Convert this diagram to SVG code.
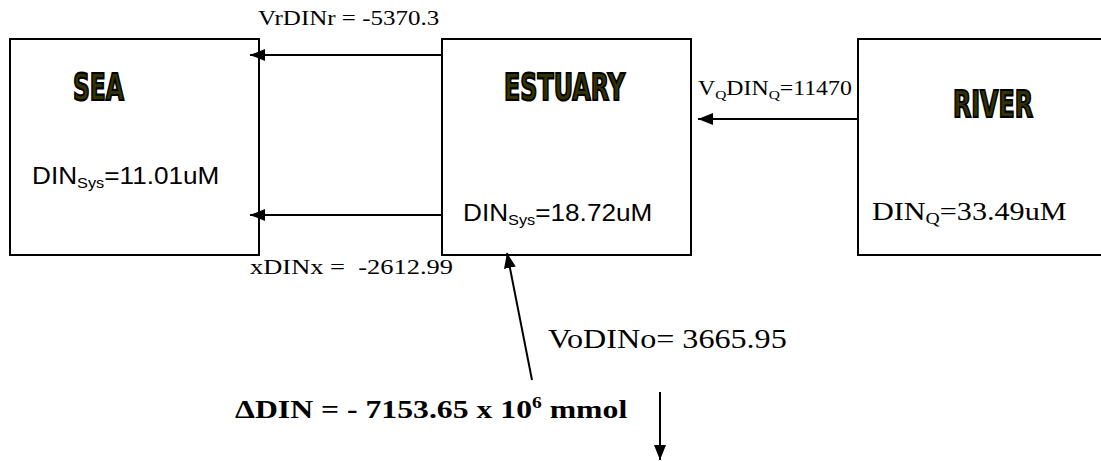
<svg xmlns="http://www.w3.org/2000/svg" width="1101" height="461" viewBox="0 0 1101 461">
<style>
.box{fill:#fff;stroke:#000;stroke-width:2}
.title{font-family:"DejaVu Sans","Liberation Sans",sans-serif;font-weight:bold;font-size:37px;fill:#333300;stroke:#000;stroke-width:2.2}
.tm{font-family:"Liberation Serif","Times New Roman",serif;fill:#000;white-space:pre}
.ar{font-family:"Liberation Sans",Arial,sans-serif;fill:#000}
.conn{fill:none;stroke:#000;stroke-width:2}
</style>
<defs>
<marker id="ah" markerUnits="userSpaceOnUse" markerWidth="15" markerHeight="12" viewBox="0 0 15 12" refX="15" refY="6" orient="auto">
<path d="M0,0 L15,6 L0,12 z" fill="#000"/>
</marker>
</defs>
<rect width="1101" height="461" fill="#fff"/>
<g id="sea">
<rect class="box" x="10" y="39" width="249" height="216"/>
<text class="title" x="73" y="100" textLength="51" lengthAdjust="spacingAndGlyphs">SEA</text>
<text class="ar" font-size="24" transform="translate(32,184) scale(1.09,1)">DIN<tspan font-size="15" dy="4">Sys</tspan><tspan dy="-4">=11.01uM</tspan></text>
</g>
<g id="estuary">
<rect class="box" x="442" y="39" width="249" height="216"/>
<text class="title" x="504" y="100" textLength="121" lengthAdjust="spacingAndGlyphs">ESTUARY</text>
<text class="ar" font-size="24" transform="translate(463,221) scale(1.09,1)">DIN<tspan font-size="15" dy="4">Sys</tspan><tspan dy="-4">=18.72uM</tspan></text>
</g>
<g id="river">
<rect class="box" x="858" y="39" width="260" height="216"/>
<text class="title" x="953" y="117" textLength="80" lengthAdjust="spacingAndGlyphs">RIVER</text>
<text class="tm" font-size="26" transform="translate(872,220) scale(1.16,1)">DIN<tspan font-size="17" dy="4">Q</tspan><tspan dy="-4">=33.49uM</tspan></text>
</g>
<g id="connectors">
<path class="conn" d="M442,55 L250,55" marker-end="url(#ah)"/>
<path class="conn" d="M442,215 L250,215" marker-end="url(#ah)"/>
<path class="conn" d="M857,119 L698,119" marker-end="url(#ah)"/>
<path class="conn" d="M532,380 L507,253" marker-end="url(#ah)"/>
<path class="conn" d="M660,392 L660,460" marker-end="url(#ah)"/>
</g>
<g id="labels">
<text class="tm" font-size="21" transform="translate(258,25) scale(1.19,1)">VrDINr = -5370.3</text>
<text class="tm" font-size="20" transform="translate(698,95) scale(1.19,1)">V<tspan font-size="13" dy="4">Q</tspan><tspan dy="-4">DIN</tspan><tspan font-size="13" dy="4">Q</tspan><tspan dy="-4">=11470</tspan></text>
<text class="tm" font-size="21" transform="translate(250,274) scale(1.26,1)">xDINx =  -2612.99</text>
<text class="tm" font-size="27" transform="translate(548,348) scale(1.19,1)">VoDINo= 3665.95</text>
<text class="tm" font-size="26" font-weight="bold" transform="translate(235,418) scale(1.22,1)">ΔDIN = - 7153.65 x 10<tspan font-size="16" dy="-10">6</tspan><tspan dy="10"> mmol</tspan></text>
</g>
</svg>
